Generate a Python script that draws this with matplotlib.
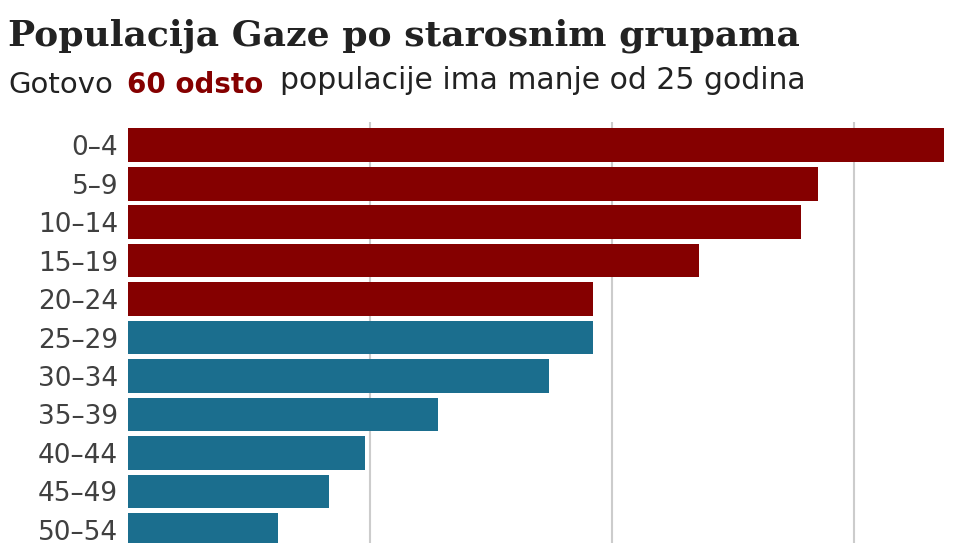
import matplotlib
matplotlib.use("Agg")
import matplotlib.pyplot as plt

categories = ["0–4","5–9","10–14","15–19","20–24","25–29","30–34","35–39","40–44","45–49","50–54"]
values = [3.37, 2.85, 2.78, 2.36, 1.92, 1.92, 1.74, 1.28, 0.98, 0.83, 0.62]
under25 = [True]*5 + [False]*6
RED = "#850000"
BLUE = "#1b6e8e"

W, H = 965, 543
fig = plt.figure(figsize=(W/100, H/100), dpi=100)
ax = fig.add_axes([128/W, 0, (944-128)/W, (H-122)/H])
ys = list(range(len(categories)))
ax.barh(ys, values, height=0.88, color=[RED if u else BLUE for u in under25], zorder=3)
ax.set_xlim(0, 3.37)
ax.set_ylim(10.34, -0.6)
ax.set_xticks([1, 2, 3])
ax.grid(axis="x", color="#cccccc", linewidth=1.5, zorder=0)
ax.set_xticklabels([])
ax.tick_params(length=0)
ax.set_yticks(ys)
ax.set_yticklabels(categories, fontsize=19, color="#404040", family="DejaVu Sans")
ax.tick_params(axis="y", pad=7)
for s in ax.spines.values():
    s.set_visible(False)

fig.text(8/W, 1-36/H, "Populacija Gaze po starosnim grupama", fontsize=26, fontweight="bold",
         family="DejaVu Serif", color="#222222", va="center")
fig.text(8/W, 1-85/H, "Gotovo", fontsize=21, color="#222222", va="center")
fig.text(127/W, 1-85/H, "60 odsto", fontsize=20, color=RED, fontweight="bold", va="center")
fig.text(280/W, 1-80/H, "populacije ima manje od 25 godina", fontsize=21.5, color="#222222", va="center")
fig.savefig("out.png", dpi=100)
